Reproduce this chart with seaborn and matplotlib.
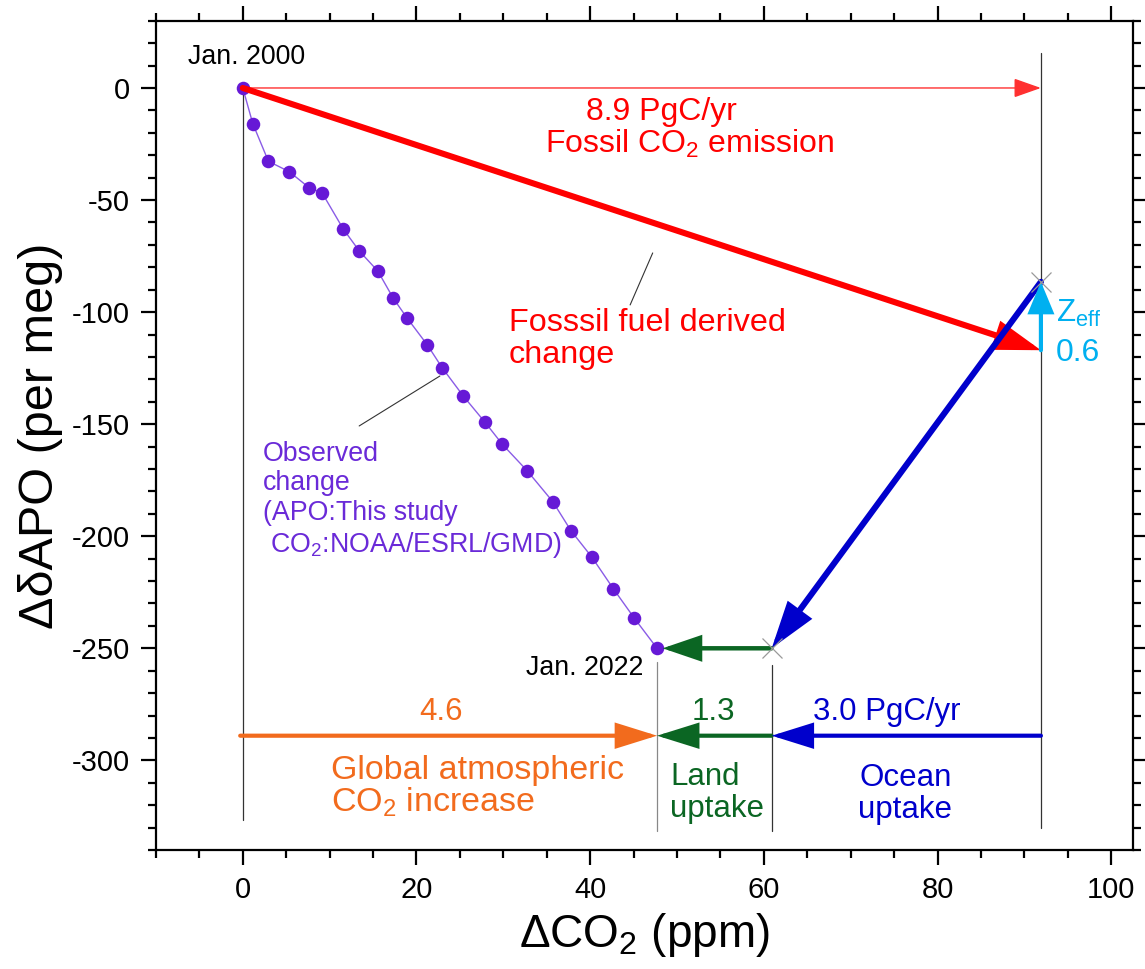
import matplotlib
matplotlib.use("Agg")
import matplotlib.pyplot as plt
import pandas as pd
import seaborn as sns

# Observed change, January values 2000-2022 (APO: this study, CO2: NOAA/ESRL/GMD)
years = list(range(2000, 2023))
d_co2 = [0.0, 1.15, 2.95, 5.37, 7.67, 9.13, 11.58, 13.43, 15.55, 17.34, 18.89, 21.26,
         22.95, 25.40, 27.90, 29.89, 32.77, 35.70, 37.80, 40.19, 42.68, 45.09, 47.7]
d_apo = [0.0, -15.9, -32.7, -37.4, -44.6, -46.8, -63.0, -72.8, -81.7, -93.9, -102.5,
         -114.7, -124.8, -137.5, -149.2, -159.0, -170.9, -184.6, -197.6, -209.3,
         -223.5, -236.6, -250.0]

# Budget terms (ppm CO2 / per meg APO)
fossil_co2 = 91.9
fossil_apo = -117.0
zeff_apo = 30.5
ocean_co2 = 31.0
land_co2 = 13.2
budget_y = -289.0

# Flux labels
fossil_flux = "8.9 PgC/yr"
atm_flux = "4.6"
land_flux = "1.3"
ocean_flux = "3.0 PgC/yr"
zeff_flux = "0.6"

xticks = [0, 20, 40, 60, 80, 100]
yticks = [0, -50, -100, -150, -200, -250, -300]

sns.set_style("ticks")
plt.rcParams["font.family"] = ["Liberation Sans", "DejaVu Sans"]
plt.rcParams["mathtext.fontset"] = "custom"
plt.rcParams["mathtext.rm"] = "Liberation Sans"
plt.rcParams["mathtext.it"] = "Liberation Sans:italic"
plt.rcParams["mathtext.bf"] = "Liberation Sans:bold"
plt.rcParams["axes.unicode_minus"] = False
plt.rcParams["text.color"] = "black"
plt.rcParams["axes.labelcolor"] = "black"

RED = "#ff0000"
BLUE = "#0000cc"
GREEN = "#0b6623"
ORANGE = "#f26b1d"
CYAN = "#00b0f0"
PURPLE = "#6619d6"
PURPLE_TXT = "#6a2ad8"

fig = plt.figure(figsize=(11.45, 9.69), dpi=100)
ax = fig.add_axes([0.1362, 0.1228, 0.8533, 0.8558])

# Observed trajectory
obs = pd.DataFrame({"year": years, "dCO2": d_co2, "dAPO": d_apo})
sns.lineplot(data=obs, x="dCO2", y="dAPO", sort=False, color="#8a5ce6", lw=1,
             ax=ax, zorder=3)
sns.scatterplot(data=obs, x="dCO2", y="dAPO", color=PURPLE, s=95, linewidth=0,
                ax=ax, zorder=4)

co2_end = d_co2[-1]
apo_end = d_apo[-1]
x_ocean = co2_end + land_co2
zeff_top = fossil_apo + zeff_apo

# Thin reference lines
vline_kw = dict(color="#333333", lw=0.9, zorder=1)
ax.plot([0, 0], [0, -326.5], **vline_kw)
ax.plot([fossil_co2, fossil_co2], [15.8, -330], **vline_kw)
ax.plot([co2_end, co2_end], [-256, -331.7], color="#888888", lw=0.9, zorder=1)
ax.plot([x_ocean, x_ocean], [-257.4, -331.7], **vline_kw)

# Leader lines for labels
ax.plot([47.2, 44.6], [-73.6, -96.8], color="#333333", lw=0.8, zorder=2)
ax.plot([22.7, 13.4], [-128.5, -150.8], color="#333333", lw=0.8, zorder=2)


def arrow(start, end, color, lw, hl, hw, z, shrink_b=0):
    ax.annotate("", xy=end, xytext=start,
                arrowprops=dict(arrowstyle=f"-|>,head_length={hl},head_width={hw}",
                                color=color, lw=lw, shrinkA=0, shrinkB=shrink_b,
                                mutation_scale=10, joinstyle="miter"),
                zorder=z)


# Fossil fuel emission (thin horizontal) and fossil-derived change
arrow((0, 0), (fossil_co2, 0), "#ff3030", 1.0, 1.7, 0.6, 5)
arrow((0, 0), (fossil_co2, fossil_apo), RED, 4.4, 2.5, 0.8, 5)
# Ocean uptake diagonal
arrow((fossil_co2, zeff_top), (x_ocean, apo_end), BLUE, 4.4, 2.5, 0.8, 6)
# Land uptake
arrow((x_ocean, apo_end), (co2_end, apo_end), GREEN, 3.2, 2.2, 0.75, 6, shrink_b=4)
# Zeff
arrow((fossil_co2, fossil_apo), (fossil_co2, zeff_top), CYAN, 3.0, 1.8, 0.75, 7)

# Budget row
arrow((-0.3, budget_y), (co2_end, budget_y), ORANGE, 3.0, 2.4, 0.75, 5)
arrow((x_ocean, budget_y), (co2_end, budget_y), GREEN, 3.0, 2.4, 0.75, 5)
arrow((fossil_co2, budget_y), (x_ocean, budget_y), BLUE, 3.0, 2.4, 0.75, 5)

# Junction markers
ax.plot([fossil_co2, x_ocean], [zeff_top, apo_end], ls="none", marker="x",
        ms=14, mew=0.9, color="#999999", zorder=8)

# Text annotations
ax.text(48.2, -10.5, fossil_flux, color=RED, fontsize=23, ha="center", va="center")
ax.text(51.4, -25, "Fossil CO$_\\mathregular{2}$ emission", color=RED, fontsize=23,
        ha="center", va="center")
ax.text(30.6, -112, "Fosssil fuel derived\nchange", color=RED, fontsize=23.3,
        ha="left", va="center", linespacing=1.12)
ax.text(2.3, -184, "Observed\nchange\n(APO:This study\n CO$_\\mathregular{2}$:NOAA/ESRL/GMD)",
        color=PURPLE_TXT, fontsize=19.3, ha="left", va="center", linespacing=1.17)
ax.text(0.4, 13.7, "Jan. 2000", color="black", fontsize=19.3, ha="center", va="center")
ax.text(46.1, -258.7, "Jan. 2022", color="black", fontsize=19.3, ha="right", va="center")
ax.text(93.6, -100.5, "Z$_\\mathregular{eff}$", color=CYAN, fontsize=22.5, ha="left",
        va="center")
ax.text(93.6, -118.3, zeff_flux, color=CYAN, fontsize=23, ha="left", va="center")

ax.text(22.8, -278.3, atm_flux, color=ORANGE, fontsize=22.5, ha="center", va="center")
ax.text(54.2, -278.3, land_flux, color=GREEN, fontsize=22.5, ha="center", va="center")
ax.text(74.2, -278.3, ocean_flux, color=BLUE, fontsize=22.5, ha="center", va="center")
ax.text(10.1, -312, "Global atmospheric\nCO$_\\mathregular{2}$ increase", color=ORANGE,
        fontsize=24.5, ha="left", va="center", linespacing=1.0)
ax.text(49.2, -314.5, "Land\nuptake", color=GREEN, fontsize=22.5, ha="left",
        va="center", linespacing=1.1)
ax.text(76.3, -315, "Ocean\nuptake", color=BLUE, fontsize=22.5, ha="center",
        va="center", linespacing=1.1)

# Axes styling
ax.set_xlim(-10, 102.5)
ax.set_ylim(-340, 30)
ax.set_xticks(xticks)
ax.set_yticks(yticks)
ax.set_xticks([v for v in range(-10, 103, 5) if v % 20 != 0], minor=True)
ax.set_yticks([v for v in range(-340, 31, 10) if v % 50 != 0], minor=True)
ax.tick_params(which="both", direction="out", width=1.6, colors="black",
               top=True, right=True, labeltop=False, labelright=False)
ax.tick_params(which="major", length=11, pad=8)
ax.tick_params(which="minor", length=6)
ax.tick_params(axis="x", which="major", labelsize=21)
ax.tick_params(axis="y", which="major", labelsize=21)
for s in ax.spines.values():
    s.set_linewidth(1.6)
    s.set_color("black")
    s.set_visible(True)

ax.set_xlabel("ΔCO$_\\mathregular{2}$ (ppm)", fontsize=33, labelpad=5, color="black")
ax.set_ylabel("ΔδAPO (per meg)", fontsize=35, labelpad=6, color="black")

fig.savefig("out.png", dpi=100)
